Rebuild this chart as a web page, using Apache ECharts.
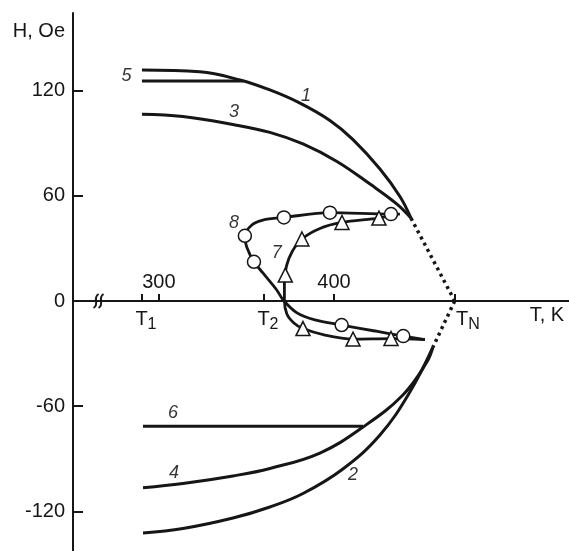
<!DOCTYPE html>
<html>
<head>
<meta charset="utf-8">
<script src="https://cdn.jsdelivr.net/npm/echarts@6/dist/echarts.min.js"></script>
<style>
html, body { margin: 0; padding: 0; background: #fff; }
#chart { width: 569px; height: 551px; }
</style>
</head>
<body>
<div id="chart"></div>
<script>
// curves, [T (K), H (Oe)]
const curve1 = [[290.3,131.8],[323.4,130.8],[346.3,126.1],[363.4,120.4],[380.6,112.9],[397.7,103.0],[410.9,92.1],[426.3,75.3],[437.7,59.6],[444,47.3]];
const curve2 = [[290.9,-132.3],[313.7,-129.8],[342.3,-123.8],[363.4,-117.5],[382.3,-109.8],[405.1,-95.8],[426.3,-76.4],[443.4,-51.9],[456.6,-26.2]];
const curve3 = [[290.3,106.5],[313.7,105.2],[342.3,100.7],[363.4,96.2],[382.3,89.6],[401.7,79.6],[420.6,66.7],[436,55.3],[444,47.3]];
const curve4 = [[290.9,-106.5],[313.7,-104.1],[342.3,-99.8],[363.4,-95.5],[392,-86.7],[416.6,-71.9],[439.4,-53.6],[453.1,-34.8],[456.6,-26.2]];
const curve5 = [[290.3,125.5],[348,125.5]];
const curve6 = [[290.9,-71.5],[416.6,-71.5]];
const dottedUp = [[444,47.3],[469,0]];
const dottedDown = [[469,0],[456.6,-26.2]];

const curve7 = [[433.7,49.1],[425.7,47.3],[404.6,44.8],[392,41.4],[381.7,35.4],[376,28.0],[372.9,20.0],[371.7,10.8],[371.7,0.6],[373.1,-7.4],[377.1,-12.5],[382.3,-15.7],[394.9,-19.4],[410.9,-21.7],[432.6,-21.4],[452,-22.0]];
const marks7 = [[425.7,47.3],[404.6,44.8],[381.7,35.4],[372.2,14.8],[382.3,-15.7],[410.9,-21.7],[432.6,-21.4]];
const curve8 = [[437.7,49.6],[432.6,49.6],[397.7,50.4],[371.4,47.7],[359.4,46.2],[353.1,43.4],[349.1,37.2],[350.1,31.0],[354.3,22.4],[359.4,16.0],[367.3,6.3],[371,0.6],[378.9,-6.8],[389.1,-10.8],[404.4,-13.7],[423.4,-17.1],[439.6,-20.0],[452,-22.0]];
const marks8 = [[432.6,49.6],[397.7,50.4],[371.4,47.7],[349.1,37.2],[354.3,22.4],[404.4,-13.7],[439.6,-20.0]];

const curveLabels = [
    { name: '1', value: [384, 117] },
    { name: '2', value: [410.9, -99.3] },
    { name: '3', value: [342.9, 108] },
    { name: '4', value: [308.6, -98] },
    { name: '5', value: [281.5, 128.4] },
    { name: '6', value: [308, -63.7] },
    { name: '7', value: [367.3, 27.6] },
    { name: '8', value: [342.9, 44.3] }
];

const yTicks = [-120, -60, 0, 60, 120];
const xNumTicks = [300, 400];
const tTicks = [290.3, 360, 469.1];
const tNames = ['{t|T}{s|1}', '{t|T}{s|2}', '{tn|T}{s|N}'];
const tUnitPos = 521.7;

const FONT = 'Liberation Sans, Arial, sans-serif';
const INK = '#161616';

let chart = echarts.init(document.getElementById('chart'));

let lineSeries = function (data, opts) {
    return Object.assign({
        type: 'line',
        data: data,
        symbol: 'none',
        smooth: 0.4,
        lineStyle: { color: INK, width: 3 },
        silent: true,
        z: 3
    }, opts || {});
};

let xRange = { min: 250.9, max: 534.3 };

chart.setOption({
    animation: false,
    grid: [
        // plot area
        { left: 73, right: 0, top: 13, bottom: 0, outerBoundsMode: 'none' },
        // same width, bottom edge on H = 0 : carries the T axis
        { left: 73, right: 0, top: 13, bottom: 250, outerBoundsMode: 'none' }
    ],
    xAxis: [
        {
            gridIndex: 0, type: 'value', min: xRange.min, max: xRange.max,
            axisLine: { show: false }, axisTick: { show: false }, axisLabel: { show: false },
            splitLine: { show: false }
        },
        {
            gridIndex: 1, type: 'value', position: 'bottom', min: xRange.min, max: xRange.max,
            axisLine: { onZero: false, lineStyle: { color: INK, width: 2 } },
            axisTick: { inside: true, length: 7, lineStyle: { color: INK, width: 2 }, customValues: xNumTicks.concat(tTicks) },
            axisLabel: {
                inside: true, margin: 9, fontSize: 20, fontFamily: FONT, color: INK,
                customValues: xNumTicks
            },
            splitLine: { show: false }
        },
        {
            gridIndex: 1, type: 'value', position: 'bottom', min: xRange.min, max: xRange.max,
            axisLine: { show: false, onZero: false },
            axisTick: { show: false },
            axisLabel: {
                margin: 4,
                customValues: tTicks.concat([tUnitPos]),
                formatter: function (v) {
                    let i = tTicks.indexOf(v);
                    return i >= 0 ? tNames[i] : '{u|T, K}';
                },
                rich: {
                    t: { fontSize: 20, fontFamily: FONT, color: INK, padding: [0, 0, 0, 8] },
                    tn: { fontSize: 20, fontFamily: FONT, color: INK, padding: [0, 0, 0, 26] },
                    u: { fontSize: 20, fontFamily: FONT, color: INK },
                    s: { fontSize: 16, fontFamily: FONT, color: INK, padding: [12, 0, 0, 0] }
                }
            },
            splitLine: { show: false }
        }
    ],
    yAxis: [
        {
            gridIndex: 0, type: 'value', min: -142.6, max: 164.3,
            name: 'H, Oe',
            nameLocation: 'end',
            nameGap: -18,
            nameTextStyle: { fontSize: 20, fontFamily: FONT, color: INK, align: 'right', verticalAlign: 'middle', padding: [0, 8, 0, 0] },
            axisLine: { onZero: false, lineStyle: { color: INK, width: 2 } },
            axisTick: { inside: true, length: 10, lineStyle: { color: INK, width: 2 }, customValues: yTicks },
            axisLabel: { margin: 8, fontSize: 20, fontFamily: FONT, color: INK, customValues: yTicks },
            splitLine: { show: false }
        },
        { gridIndex: 1, type: 'value', min: 0, max: 1, show: false }
    ],
    series: [
        lineSeries(curve1),
        lineSeries(curve2),
        lineSeries(curve3),
        lineSeries(curve4),
        lineSeries(curve5, { smooth: false }),
        lineSeries(curve6, { smooth: false }),
        lineSeries(dottedUp, { smooth: false, lineStyle: { color: INK, width: 3.5, type: [3, 4] } }),
        lineSeries(dottedDown, { smooth: false, lineStyle: { color: INK, width: 3.5, type: [3, 4] } }),
        lineSeries(curve7, { smooth: 0.3, lineStyle: { color: INK, width: 2.8 } }),
        lineSeries(curve8, { smooth: 0.3, lineStyle: { color: INK, width: 2.8 } }),
        {
            type: 'scatter', data: marks7, symbol: 'triangle', symbolSize: 14, z: 5, silent: true,
            itemStyle: { color: '#fff', opacity: 1, borderColor: INK, borderWidth: 1.5 }
        },
        {
            type: 'scatter', data: marks8, symbol: 'circle', symbolSize: 13, z: 5, silent: true,
            itemStyle: { color: '#fff', opacity: 1, borderColor: INK, borderWidth: 1.5 }
        },
        {
            type: 'scatter', data: curveLabels, symbolSize: 0, z: 6, silent: true,
            label: {
                show: true, position: 'inside', formatter: '{b}',
                fontSize: 18, fontStyle: 'italic', fontFamily: FONT, color: '#000'
            }
        }
    ]
});

// axis break mark on the T axis
let bp = chart.convertToPixel({ xAxisIndex: 0, yAxisIndex: 0 }, [265.5, 0]);
let squiggle = function (dx) {
    let x = bp[0] + dx, y = bp[1];
    return {
        type: 'bezierCurve',
        shape: { x1: x + 2.5, y1: y - 7, cpx1: x - 4, cpy1: y - 3, cpx2: x + 4, cpy2: y + 3, x2: x - 2.5, y2: y + 7 },
        style: { stroke: INK, lineWidth: 2, fill: null },
        z: 10
    };
};
chart.setOption({ graphic: [squiggle(-2.5), squiggle(2.5)] });
</script>
</body>
</html>
